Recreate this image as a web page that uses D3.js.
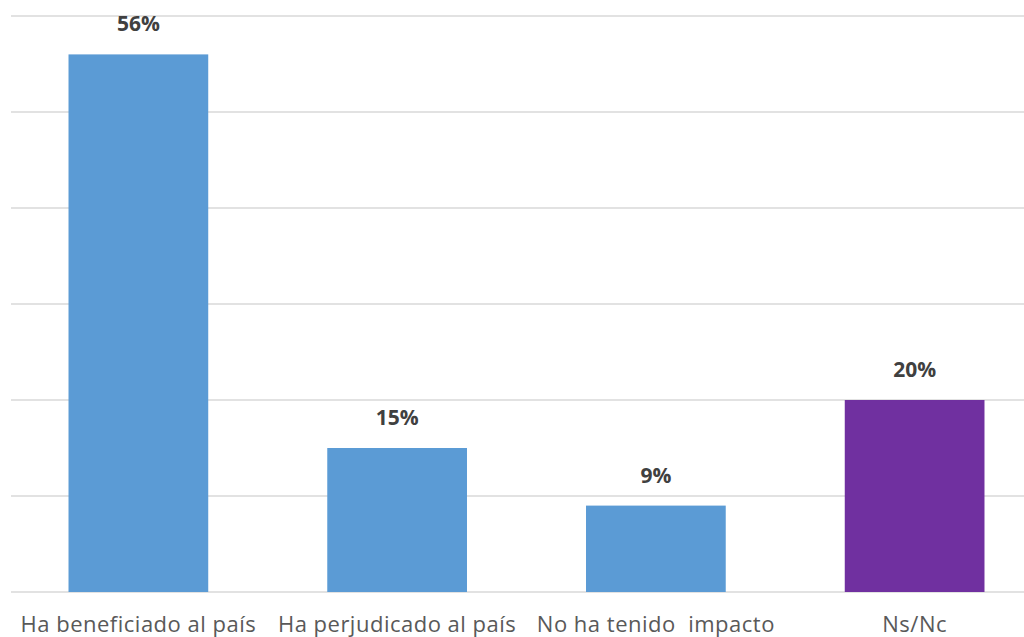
<!DOCTYPE html>
<html>
<head>
<meta charset="utf-8">
<script src="https://cdn.jsdelivr.net/npm/d3@7"></script>
<style>
	body { margin: 0; background: #fff; }
	svg { display: block; }
	.grid line { stroke: #d9d9d9; stroke-width: 1.5; }
	.cat { font-family: "Open Sans", sans-serif; font-size: 22px; letter-spacing: 0.5px; fill: #595959; white-space: pre; }
	.val { font-family: "Open Sans", sans-serif; font-size: 21px; font-weight: bold; fill: #404040; }
</style>
</head>
<body>
<div id="chart"></div>
<script>
// survey answers, share of respondents (%)
var categories = ["Ha beneficiado al país", "Ha perjudicado al país", "No ha tenido  impacto", "Ns/Nc"];
var values = [56, 15, 9, 20];
var barColors = ["#5b9bd5", "#5b9bd5", "#5b9bd5", "#7030a0"];
var gridTicks = [0, 10, 20, 30, 40, 50, 60];

var width = 1024;
var height = 637;

var svg = d3.select("#chart").append("svg")
	.attr("width", width)
	.attr("height", height);

var x = d3.scaleBand()
	.domain(categories)
	.range([9, 1044])
	.paddingInner(0.46)
	.paddingOuter(0.23);

var y = d3.scaleLinear()
	.domain([0, 60])
	.range([592, 16]);

// horizontal gridlines
svg.append("g")
	.attr("class", "grid")
	.selectAll("line")
	.data(gridTicks)
	.enter().append("line")
	.attr("x1", 11)
	.attr("x2", 1044)
	.attr("y1", function(d) { return y(d); })
	.attr("y2", function(d) { return y(d); });

svg.append("g")
	.selectAll("rect")
	.data(values)
	.enter().append("rect")
	.attr("x", function(d, i) { return x(categories[i]); })
	.attr("y", function(d) { return y(d); })
	.attr("width", x.bandwidth())
	.attr("height", function(d) { return y(0) - y(d); })
	.attr("fill", function(d, i) { return barColors[i]; });

svg.append("g")
	.selectAll("text")
	.data(values)
	.enter().append("text")
	.attr("class", "val")
	.attr("text-anchor", "middle")
	.attr("x", function(d, i) { return x(categories[i]) + x.bandwidth() / 2; })
	.attr("y", function(d) { return y(d) - 23; })
	.text(function(d) { return d + "%"; });

svg.append("g")
	.selectAll("text")
	.data(categories)
	.enter().append("text")
	.attr("class", "cat")
	.attr("text-anchor", "middle")
	.attr("x", function(d) { return x(d) + x.bandwidth() / 2; })
	.attr("y", 632)
	.text(function(d) { return d; });
</script>
</body>
</html>
